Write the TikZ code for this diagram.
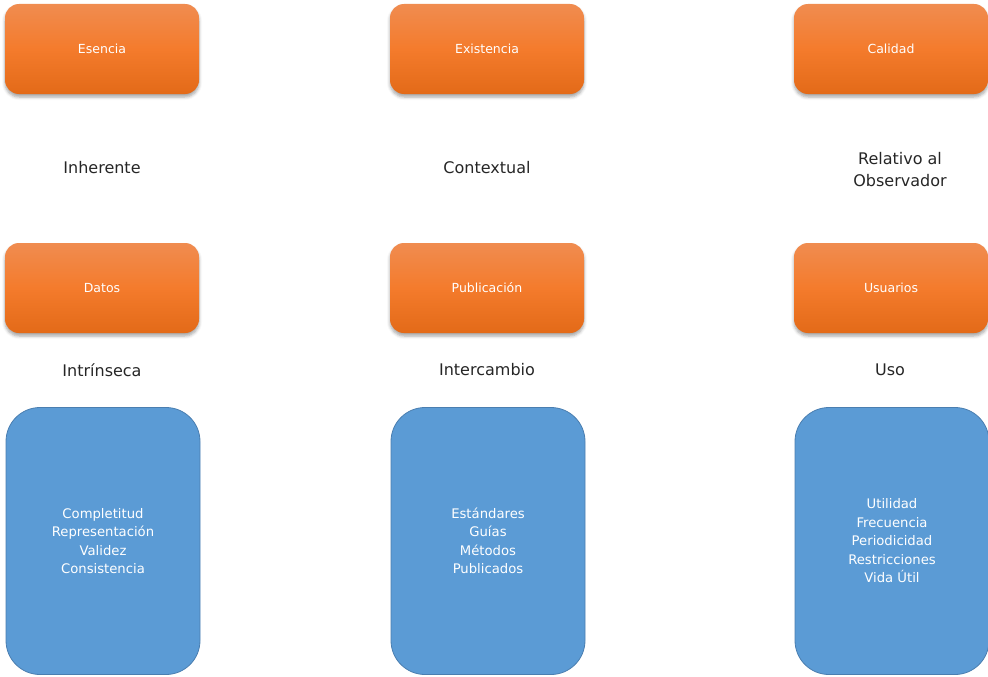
\documentclass[tikz,border=0pt]{standalone}
\usepackage{fontspec}
\setmainfont{DejaVu Sans}
\usetikzlibrary{shadows.blur}
\definecolor{otop}{HTML}{F08C50}
\definecolor{omid}{HTML}{F47B2C}
\definecolor{obot}{HTML}{E36A18}
\definecolor{bfill}{HTML}{5B9BD5}
\definecolor{bline}{HTML}{4A7EB0}
\tikzset{
  obox/.style={rounded corners=14pt, minimum width=194pt, minimum height=90pt,
    top color=otop, bottom color=obot, middle color=omid, draw=none,
    blur shadow={shadow xshift=0pt, shadow yshift=-3pt, shadow blur radius=3pt, shadow opacity=35},
    text=white, font=\fontsize{12.5}{15}\selectfont, inner sep=0pt},
  bbox/.style={rounded corners=34pt, minimum width=194pt, minimum height=267pt,
    fill=bfill, draw=bline, line width=0.8pt, text=white, align=center,
    font=\fontsize{13.2}{18.5}\selectfont, inner sep=0pt},
  lbl/.style={text=black!85, align=center, font=\fontsize{16}{22}\selectfont, inner sep=0pt}
}
\begin{document}
\begin{tikzpicture}[x=1pt,y=-1pt]
\useasboundingbox (0,0) rectangle (988,677);
\node[obox] (esencia) at (102,49) {Esencia};
\node[obox] (existencia) at (487,49) {Existencia};
\node[obox] (calidad) at (891,49) {Calidad};
\node[lbl] (inherente) at (102,168) {Inherente};
\node[lbl] (contextual) at (487,168) {Contextual};
\node[lbl] (relativo) at (900,170) {Relativo al\\Observador};
\node[obox] (datos) at (102,288) {Datos};
\node[obox] (publicacion) at (487,288) {Publicación};
\node[obox] (usuarios) at (891,288) {Usuarios};
\node[lbl] (intrinseca) at (102,370) {Intrínseca};
\node[lbl] (intercambio) at (487,370) {Intercambio};
\node[lbl] (uso) at (890,370) {Uso};
\node[bbox] (b1) at (103,541) {Completitud\\Representación\\Validez\\Consistencia};
\node[bbox] (b2) at (488,541) {Estándares\\Guías\\Métodos\\Publicados};
\node[bbox] (b3) at (892,541) {Utilidad\\Frecuencia\\Periodicidad\\Restricciones\\Vida Útil};
\end{tikzpicture}
\end{document}
